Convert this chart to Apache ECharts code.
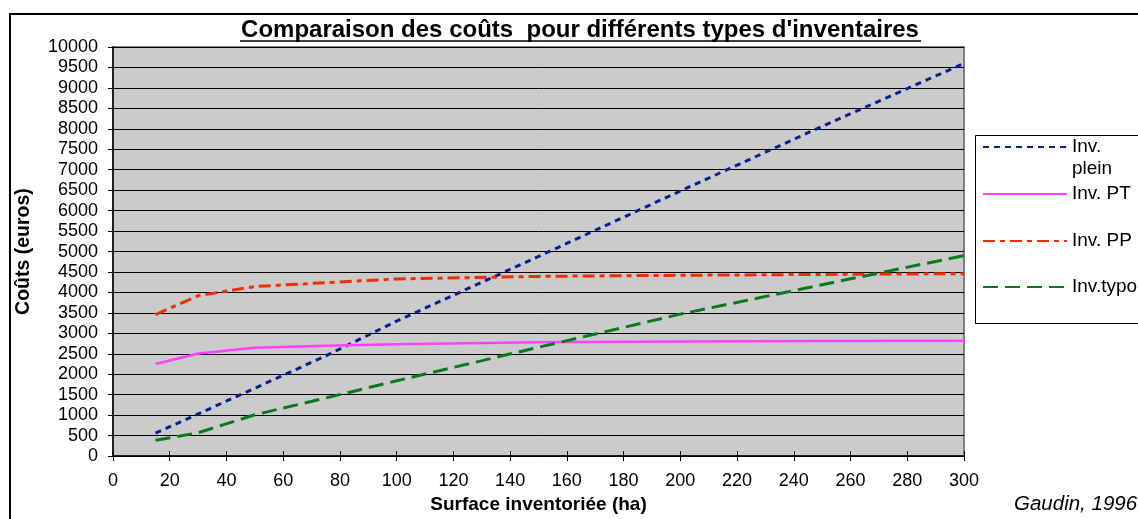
<!DOCTYPE html>
<html>
<head>
<meta charset="utf-8">
<script src="https://cdn.jsdelivr.net/npm/echarts@6/dist/echarts.min.js"></script>
<style>
html,body{margin:0;padding:0;background:#fff;}
#chart{width:1138px;height:519px;}
</style>
</head>
<body>
<div id="chart"></div>
<script>
// ---- data ----
const surfaces = [15, 30, 50, 75, 100, 150, 200, 250, 300];
const invPlein = [560, 1030, 1660, 2450, 3300, 4880, 6480, 8060, 9600];
const invPT    = [2250, 2510, 2650, 2700, 2735, 2780, 2803, 2812, 2819];
const invPP    = [3460, 3920, 4145, 4240, 4330, 4393, 4420, 4441, 4460];
const invTypo  = [385, 570, 1010, 1420, 1840, 2660, 3470, 4190, 4900];
const seriesNames = ['Inv. plein', 'Inv. PT', 'Inv. PP', 'Inv.typo'];
const titleText = "Comparaison des coûts  pour différents types d'inventaires";
const xName = 'Surface inventoriée (ha)';
const yName = 'Coûts (euros)';
const sourceText = 'Gaudin, 1996';

const FONT = "'Liberation Sans', Arial, sans-serif";
const pairs = arr => surfaces.map((x, i) => [x, arr[i]]);

const styles = [
  {color: '#0A1E96', width: 3, type: [6, 5]},
  {color: '#FF40FF', width: 2.5, type: 'solid'},
  {color: '#F03000', width: 3, type: [12, 5, 5, 5]},
  {color: '#0A7A1E', width: 3, type: [15, 7]}
];
const values = [invPlein, invPT, invPP, invTypo];

const series = values.map((v, i) => ({
  name: seriesNames[i],
  type: 'line',
  data: pairs(v),
  symbol: 'none',
  smooth: false,
  lineStyle: {color: styles[i].color, width: styles[i].width, type: styles[i].type},
  itemStyle: {color: styles[i].color},
  z: 3
}));

const legendTops = [114, 184, 231, 277];
const legends = seriesNames.map((n, i) => ({
  data: [n],
  orient: 'vertical',
  left: 982,
  top: legendTops[i],
  padding: 0,
  itemWidth: 84,
  itemHeight: 14,
  selectedMode: false,
  z: 10,
  itemStyle: {color: 'rgba(0,0,0,0)', borderColor: 'rgba(0,0,0,0)', borderWidth: 0},
  formatter: i === 0 ? ' \nInv.\nplein' : null,
  textStyle: i === 0
    ? {fontFamily: FONT, fontSize: 19, color: '#000', lineHeight: 22}
    : {fontFamily: FONT, fontSize: 19, color: '#000', lineHeight: 20}
}));

const chart = echarts.init(document.getElementById('chart'), null, {renderer: 'canvas'});
chart.setOption({
  animation: false,
  backgroundColor: '#fff',
  title: {
    text: titleText,
    left: 580,
    textAlign: 'center',
    top: 18,
    padding: 0,
    textStyle: {fontFamily: FONT, fontSize: 24, fontWeight: 'bold', color: '#000'}
  },
  legend: legends,
  grid: {
    left: 113, right: 174, top: 47, bottom: 57,
    show: true, backgroundColor: '#CBCBCB', borderColor: '#808080', borderWidth: 2
  },
  xAxis: [{
    type: 'value', min: 0, max: 300, interval: 20,
    name: xName, nameLocation: 'middle', nameGap: 37,
    nameTextStyle: {fontFamily: FONT, fontSize: 19, fontWeight: 'bold', color: '#000'},
    axisLine: {show: true, onZero: false, lineStyle: {color: '#000', width: 1.5}},
    axisTick: {show: true, length: 5, lineStyle: {color: '#000'}},
    axisLabel: {fontFamily: FONT, fontSize: 18, color: '#000', margin: 16},
    splitLine: {show: false}
  }, {
    type: 'value', min: 0, max: 300, interval: 20, position: 'bottom',
    axisLine: {show: false}, axisLabel: {show: false}, splitLine: {show: false},
    axisTick: {show: true, inside: true, length: 5, lineStyle: {color: '#000'}}
  }],
  yAxis: [{
    type: 'value', min: 0, max: 10000, interval: 500,
    name: yName, nameLocation: 'middle', nameGap: 79,
    nameTextStyle: {fontFamily: FONT, fontSize: 19.5, fontWeight: 'bold', color: '#000'},
    axisLine: {show: true, onZero: false, lineStyle: {color: '#000', width: 1.5}},
    axisTick: {show: true, length: 5, lineStyle: {color: '#000'}},
    axisLabel: {fontFamily: FONT, fontSize: 18, color: '#000', margin: 15, formatter: v => String(v)},
    splitLine: {show: true, lineStyle: {color: '#000', width: 1}}
  }, {
    type: 'value', min: 0, max: 10000, interval: 500, position: 'left',
    axisLine: {show: false}, axisLabel: {show: false}, splitLine: {show: false},
    axisTick: {show: true, inside: true, length: 5, lineStyle: {color: '#000'}}
  }],
  graphic: [
    {type: 'rect', shape: {x: 10, y: 14, width: 1300, height: 700}, style: {fill: null, stroke: '#000', lineWidth: 2}, z: 0, silent: true},
    {type: 'rect', shape: {x: 975.5, y: 135.5, width: 300, height: 188}, style: {fill: '#fff', stroke: '#000', lineWidth: 1}, z: 1, silent: true},
    {type: 'line', shape: {x1: 240, y1: 41, x2: 921, y2: 41}, style: {stroke: '#000', lineWidth: 1.5}, z: 5, silent: true},
    {type: 'text', left: 1014, top: 494, style: {text: sourceText, fontFamily: FONT, fontSize: 20.5, fontStyle: 'italic', fill: '#000'}, z: 5, silent: true}
  ],
  series: series
});
</script>
</body>
</html>
